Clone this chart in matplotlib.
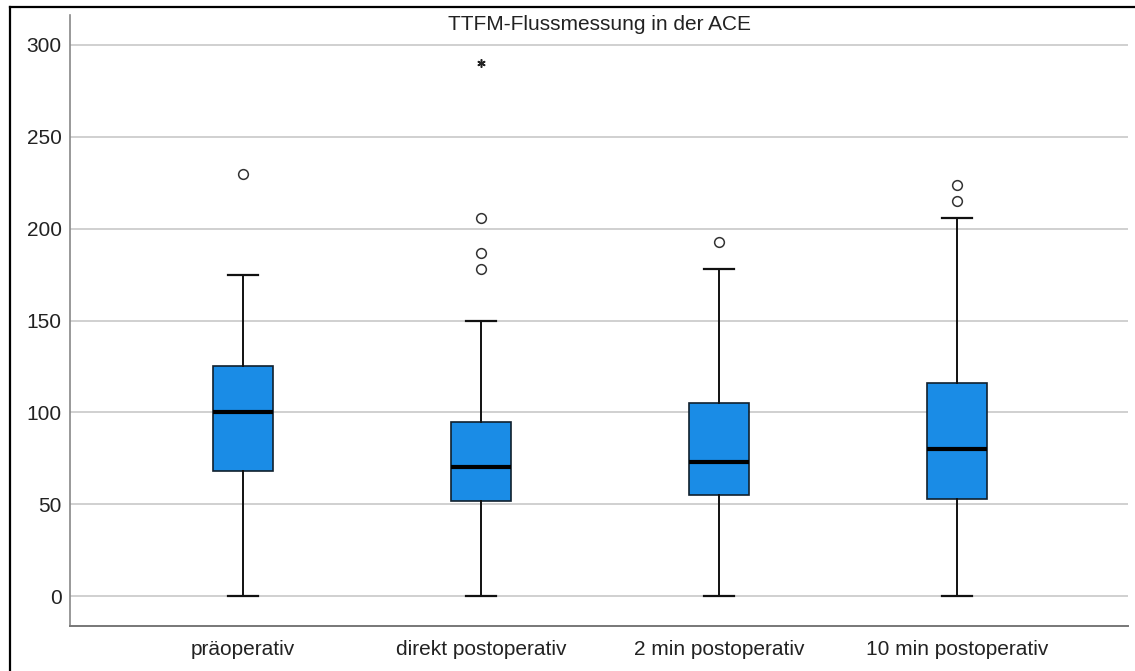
import matplotlib.pyplot as plt
from matplotlib.lines import Line2D

plt.rcParams["font.family"] = ["Liberation Sans", "DejaVu Sans"]

groups = ["präoperativ", "direkt postoperativ", "2 min postoperativ", "10 min postoperativ"]
whisker_low = [0, 0, 0, 0]
q1 = [68, 52, 55, 53]
median = [100, 70, 73, 80]
q3 = [125, 95, 105, 116]
whisker_high = [175, 150, 178, 206]
outliers = [[230], [178, 187, 206], [193], [215, 224]]
extremes = [[], [290], [], []]

box_color = "#1a8ce6"

fig = plt.figure(figsize=(11.35, 6.71), dpi=100)
ax = fig.add_axes([70 / 1135, 1 - 626 / 671, 1058 / 1135, 611 / 671])

stats = []
for i in range(len(groups)):
    stats.append({
        "whislo": whisker_low[i],
        "q1": q1[i],
        "med": median[i],
        "q3": q3[i],
        "whishi": whisker_high[i],
        "fliers": outliers[i],
    })

positions = list(range(1, len(groups) + 1))
ax.bxp(
    stats,
    positions=positions,
    widths=0.252,
    patch_artist=True,
    showcaps=True,
    boxprops=dict(facecolor=box_color, edgecolor="#10202e", linewidth=1.2),
    medianprops=dict(color="#000000", linewidth=3.0),
    whiskerprops=dict(color="#111111", linewidth=1.4),
    capprops=dict(color="#111111", linewidth=1.6),
    capwidths=0.126,
    flierprops=dict(marker="o", markersize=7, markerfacecolor="white",
                    markeredgecolor="#333333", markeredgewidth=1.1),
    zorder=3,
)

# extreme values (SPSS asterisk)
for pos, vals in zip(positions, extremes):
    if vals:
        ax.plot([pos] * len(vals), vals, linestyle="none", marker=(6, 2, 0),
                markersize=6, markeredgewidth=1.1, color="#222222", zorder=4)

ax.set_xlim(0.273, 4.72)
ax.set_ylim(-16.3, 316.3)
ax.set_yticks([0, 50, 100, 150, 200, 250, 300])
ax.set_xticks(positions)
ax.set_xticklabels(groups)
ax.yaxis.grid(True, color="#d0d0d0", linewidth=1.4, zorder=0)
ax.set_axisbelow(True)
ax.tick_params(axis="both", length=0, labelsize=15, colors="#222222")
ax.tick_params(axis="y", pad=6)
ax.tick_params(axis="x", pad=10)

for side in ["top", "right"]:
    ax.spines[side].set_visible(False)
ax.spines["left"].set_color("#888888")
ax.spines["bottom"].set_color("#777777")
ax.spines["left"].set_linewidth(1.2)
ax.spines["bottom"].set_linewidth(1.4)

ax.text(0.5, (626 - 25) / 611, "TTFM-Flussmessung in der ACE", transform=ax.transAxes,
        ha="center", va="center", fontsize=15, color="#222222")

# outer frame, only top and left edge visible in the cropped export
fig.add_artist(Line2D([9.5 / 1135, 1], [1 - 6.5 / 671, 1 - 6.5 / 671],
                      transform=fig.transFigure, color="black", linewidth=1.6))
fig.add_artist(Line2D([9.5 / 1135, 9.5 / 1135], [0, 1 - 6.5 / 671],
                      transform=fig.transFigure, color="black", linewidth=1.6))

fig.savefig("out.png", dpi=100)
